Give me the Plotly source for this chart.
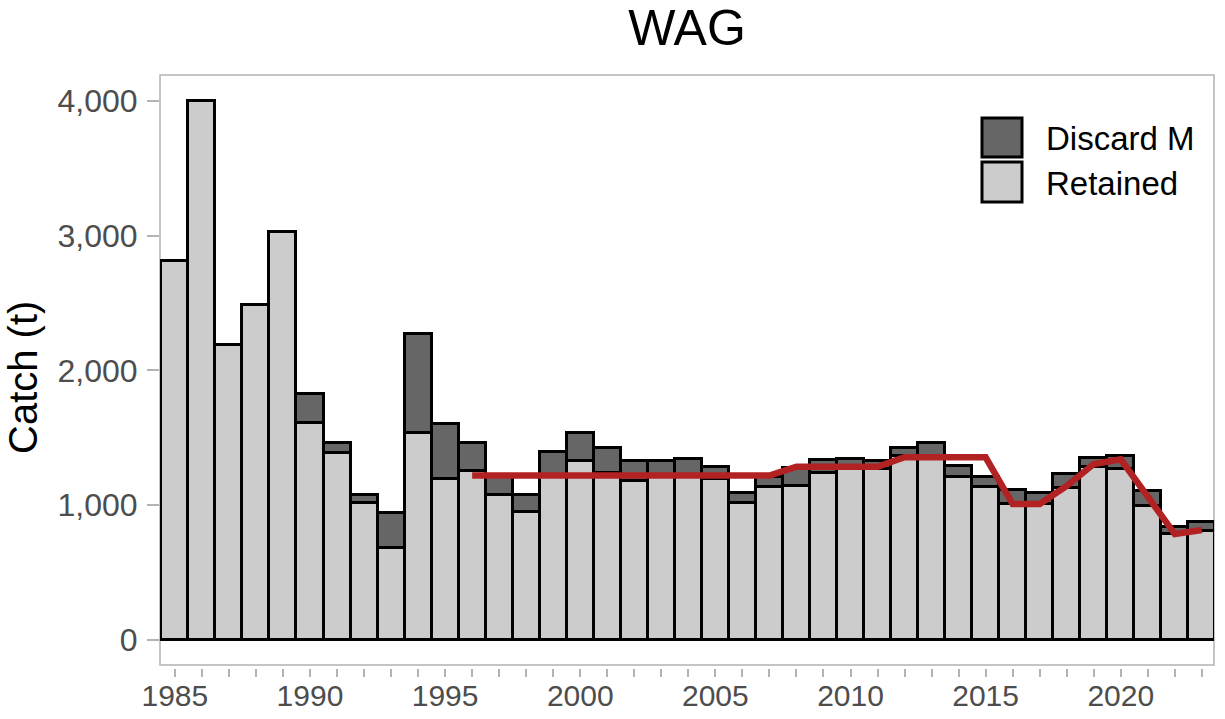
import plotly.graph_objects as go

years = list(range(1985, 2024))
total = [2816, 4000, 2186, 2488, 3027, 1827, 1460, 1077, 942, 2271,
         1601, 1464, 1225, 1076, 1393, 1535, 1422, 1328, 1328, 1341,
         1281, 1088, 1210, 1280, 1336, 1343, 1328, 1427, 1459, 1291,
         1212, 1113, 1088, 1232, 1348, 1365, 1106, 841, 878]
retained = [2816, 4000, 2186, 2488, 3027, 1608, 1389, 1019, 683, 1534,
            1192, 1257, 1076, 948, 1215, 1328, 1240, 1182, 1215, 1225,
            1192, 1019, 1138, 1143, 1237, 1275, 1266, 1365, 1365, 1207,
            1133, 1012, 1010, 1130, 1281, 1266, 994, 786, 809]
discard = [t - r for t, r in zip(total, retained)]

line_years = list(range(1996, 2024))
line_vals = [1220] * 12 + [1286] * 4 + [1356] * 4 + [1009, 1009, 1143, 1306, 1341, 1064, 786, 816]

tick_years = list(range(1985, 2024))
tick_text = [str(y) if y % 5 == 0 else "" for y in tick_years]

RET_COL = "#cccccc"
DIS_COL = "#666666"
LINE_COL = "#b22222"
FONT = "Liberation Sans, Arial, sans-serif"

fig = go.Figure()
fig.add_trace(go.Bar(x=years, y=retained, name="Retained", width=1.0,
                     marker=dict(color=RET_COL, line=dict(color="black", width=3)),
                     showlegend=False))
fig.add_trace(go.Bar(x=years, y=discard, name="Discard M", width=1.0,
                     marker=dict(color=DIS_COL, line=dict(color="black", width=3)),
                     showlegend=False))
fig.add_trace(go.Scatter(x=line_years, y=line_vals, mode="lines",
                         line=dict(color=LINE_COL, width=6.5), showlegend=False))

W, H = 1225, 719
L, R, T, B = 160, 11, 75, 51
pw, ph = W - L - R, H - T - B

def px(x):
    return (x - L) / pw

def py(y):
    return (H - B - y) / ph

shapes = [
    dict(type="rect", xref="paper", yref="paper", x0=0, x1=1, y0=py(665), y1=1,
         line=dict(color="#b3b3b3", width=1.5), fillcolor="rgba(0,0,0,0)", layer="below"),
    dict(type="rect", xref="paper", yref="paper", x0=px(982), x1=px(1022), y0=py(157), y1=py(118),
         line=dict(color="black", width=3), fillcolor=DIS_COL),
    dict(type="rect", xref="paper", yref="paper", x0=px(982), x1=px(1022), y0=py(202), y1=py(162),
         line=dict(color="black", width=3), fillcolor=RET_COL),
]
annotations = [
    dict(text="Discard M", xref="paper", yref="paper", x=px(1044), y=py(138),
         xanchor="left", yanchor="middle", showarrow=False,
         font=dict(family=FONT, size=33, color="black")),
    dict(text="Retained", xref="paper", yref="paper", x=px(1044), y=py(183),
         xanchor="left", yanchor="middle", showarrow=False,
         font=dict(family=FONT, size=33, color="black")),
    dict(text="Catch (t)", xref="paper", yref="paper", x=px(23), y=py(378),
         xanchor="center", yanchor="middle", textangle=-90, showarrow=False,
         font=dict(family=FONT, size=40, color="black")),
]

fig.update_layout(
    width=W, height=H,
    margin=dict(l=L, r=R, t=T, b=B, autoexpand=False),
    paper_bgcolor="white", plot_bgcolor="white",
    barmode="stack", bargap=0,
    title=dict(text="WAG", x=px(687), xref="paper", xanchor="center",
               y=1 - 27 / H, yanchor="middle",
               font=dict(family=FONT, size=50, color="black")),
    shapes=shapes, annotations=annotations,
    font=dict(family=FONT),
)
fig.update_xaxes(range=[1984.45, 2023.45], tickmode="array", tickvals=tick_years,
                 ticktext=tick_text, ticks="outside", ticklen=8, tickwidth=1.5,
                 tickcolor="#b3b3b3", showgrid=False, zeroline=False, showline=False,
                 automargin=False, ticklabelstandoff=-7,
                 tickfont=dict(family=FONT, size=30, color="#4d4d4d"))
fig.update_yaxes(range=[-208, 4193], tickmode="array", tickvals=[0, 1000, 2000, 3000, 4000],
                 ticktext=["0", "1,000", "2,000", "3,000", "4,000"], ticks="outside",
                 ticklen=12, tickwidth=1.5, tickcolor="#b3b3b3", showgrid=False,
                 zeroline=False, showline=False, ticklabelstandoff=3, automargin=False,
                 tickfont=dict(family=FONT, size=32, color="#4d4d4d"))

fig.write_html("out.html", config={"displayModeBar": False},
               post_script="document.body.style.margin='0';document.body.style.overflow='hidden';")
